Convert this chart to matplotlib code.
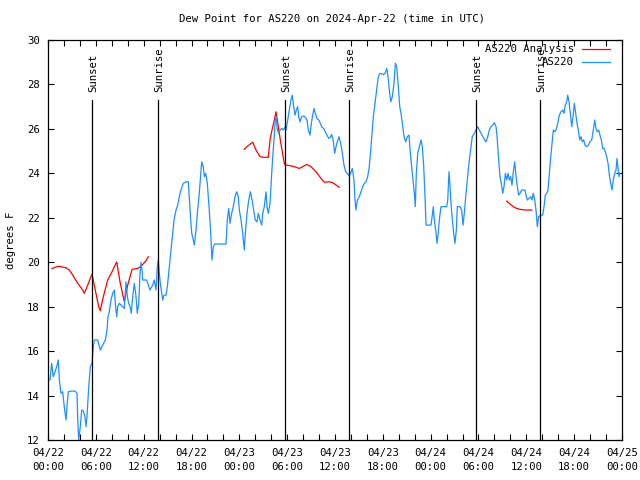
import numpy as np
import matplotlib
matplotlib.use('Agg')
import matplotlib.pyplot as plt

# --- 数据：时间（自 04/22 00:00 UTC 起的小时数）和露点（°F）---
blue_hours = [0.25, 0.46, 0.66, 0.88, 1.09, 1.29, 1.42, 1.63, 1.84, 2.04, 2.26, 2.38, 2.55, 2.89, 3.42, 3.64,
              3.73, 3.85, 4.05, 4.23, 4.43, 4.64, 4.77, 4.89, 5.11, 5.31, 5.52, 5.68, 5.81, 6.23, 6.56, 6.86,
              7.19, 7.40, 7.53, 7.69, 7.90, 8.12, 8.32, 8.44, 8.62, 8.74, 8.94, 9.16, 9.37, 9.57, 9.78, 9.95,
              10.12, 10.29, 10.45, 10.62, 10.83, 11.04, 11.20, 11.38, 11.54, 11.67, 11.79, 11.88, 12.38, 12.79,
              13.13, 13.33, 13.55, 13.71, 13.84, 13.96, 14.14, 14.39, 14.55, 14.80, 14.97, 15.22, 15.39, 15.59,
              15.81, 16.06, 16.27, 16.47, 16.68, 16.97, 17.31, 17.60, 17.72, 17.90, 18.03, 18.23, 18.35, 18.57,
              18.73, 18.94, 19.16, 19.28, 19.48, 19.61, 19.78, 19.98, 20.20, 20.41, 20.57, 20.74, 20.91, 22.33,
              22.49, 22.67, 22.83, 23.04, 23.24, 23.46, 23.67, 23.87, 24.00, 24.21, 24.42, 24.62, 24.75, 24.96,
              25.18, 25.38, 25.59, 25.80, 26.00, 26.22, 26.38, 26.59, 26.81, 26.93, 27.13, 27.35, 27.47, 27.63,
              27.85, 28.01, 28.19, 28.35, 28.51, 28.64, 28.76, 28.94, 29.10, 29.32, 29.52, 29.69, 29.85, 30.07,
              30.27, 30.48, 30.64, 30.82, 30.98, 31.15, 31.32, 31.45, 31.61, 31.82, 32.08, 32.28, 32.49, 32.65,
              32.87, 33.03, 33.20, 33.37, 33.53, 33.74, 33.96, 34.16, 34.37, 34.58, 34.78, 35.00, 35.21, 35.41,
              35.59, 35.79, 35.96, 36.13, 36.29, 36.50, 36.72, 36.92, 37.13, 37.34, 37.54, 37.76, 37.97, 38.17,
              38.38, 38.51, 38.63, 38.80, 39.05, 39.26, 39.48, 39.68, 39.89, 40.10, 40.30, 40.48, 40.64, 40.81,
              41.02, 41.23, 41.43, 41.65, 42.06, 42.27, 42.49, 42.65, 42.81, 42.99, 43.19, 43.40, 43.57, 43.74,
              43.94, 44.12, 44.28, 44.50, 44.66, 44.87, 45.07, 45.28, 45.45, 45.62, 45.79, 45.95, 46.07, 46.20,
              46.38, 46.58, 46.79, 46.95, 47.13, 47.29, 47.42, 48.04, 48.21, 48.33, 48.46, 48.63, 48.80, 48.96,
              49.13, 49.30, 50.01, 50.14, 50.30, 50.43, 50.55, 50.72, 50.89, 51.05, 51.22, 51.34, 51.68, 51.89,
              52.06, 52.22, 52.40, 52.56, 52.72, 52.90, 53.06, 53.22, 53.48, 53.69, 53.90, 54.10, 54.32, 54.53,
              54.73, 54.94, 55.16, 55.36, 55.57, 55.78, 55.98, 56.20, 56.36, 56.53, 56.70, 56.86, 57.04, 57.20,
              57.37, 57.54, 57.71, 57.87, 58.04, 58.20, 58.37, 58.54, 58.71, 58.87, 59.04, 59.21, 59.42, 59.83,
              59.96, 60.12, 60.34, 60.55, 60.71, 60.88, 61.05, 61.21, 61.38, 61.55, 61.80, 62.05, 62.22, 62.38,
              62.56, 62.72, 62.89, 63.06, 63.22, 63.39, 63.56, 63.72, 63.94, 64.14, 64.35, 64.56, 64.73, 64.89,
              65.07, 65.19, 65.35, 65.52, 65.69, 65.86, 66.02, 66.19, 66.36, 66.52, 66.70, 66.86, 67.02, 67.20,
              67.36, 67.57, 67.78, 67.99, 68.20, 68.40, 68.58, 68.74, 68.90, 69.08, 69.24, 69.41, 69.58, 69.75,
              69.91, 70.08, 70.25, 70.41, 70.58, 70.75, 70.91, 71.09, 71.25, 71.37, 71.50, 71.62, 71.75]
blue_dewpt = [14.7, 15.45, 14.85, 15.07, 15.3, 15.6, 14.7, 14.1, 14.17, 13.5, 12.9, 13.5, 14.17, 14.2, 14.2, 14.1,
              12.9, 12.0, 12.6, 13.35, 13.3, 13.05, 12.6, 13.05, 14.4, 15.3, 15.45, 16.2, 16.5, 16.5, 16.05, 16.27,
              16.5, 16.95, 17.55, 17.77, 18.3, 18.6, 18.75, 18.15, 17.55, 18.0, 18.15, 18.07, 18.0, 17.92, 19.12, 18.45,
              18.15, 18.0, 17.7, 18.45, 19.05, 18.45, 17.7, 18.15, 19.5, 20.0, 19.65, 19.2, 19.2, 18.75,
              18.97, 19.2, 18.75, 19.8, 20.1, 19.5, 18.9, 18.3, 18.52, 18.52, 18.9, 19.8, 20.4, 21.15,
              21.9, 22.35, 22.57, 22.95, 23.25, 23.55, 23.62, 23.62, 22.95, 21.9, 21.3, 21.0, 20.77, 21.45,
              22.2, 22.95, 24.0, 24.52, 24.3, 23.85, 24.0, 23.55, 22.5, 21.3, 20.1, 20.7, 20.82, 20.82,
              21.9, 22.42, 21.75, 22.2, 22.5, 22.95, 23.17, 22.95, 22.35, 21.9, 21.3, 20.55, 21.3, 22.2,
              22.8, 23.17, 22.8, 22.35, 21.9, 21.82, 22.2, 21.9, 21.67, 22.2, 22.5, 23.17, 22.5, 22.2,
              22.65, 23.7, 24.75, 25.5, 26.4, 26.55, 25.95, 25.8, 25.95, 26.02, 25.95, 26.07, 25.95, 26.4,
              26.85, 27.3, 27.52, 27.0, 26.62, 26.85, 27.0, 26.55, 26.32, 26.55, 26.58, 26.52, 26.4, 25.95,
              25.72, 26.25, 26.62, 26.92, 26.7, 26.47, 26.4, 26.25, 26.07, 26.02, 25.87, 25.72, 25.57, 25.62,
              25.75, 25.45, 24.9, 25.2, 25.42, 25.65, 25.35, 24.9, 24.37, 24.07, 24.0, 23.88, 24.0, 24.22,
              23.7, 22.8, 22.35, 22.8, 22.95, 23.17, 23.4, 23.55, 23.62, 23.85, 24.3, 25.05, 25.8, 26.55,
              27.15, 27.75, 28.35, 28.5, 28.45, 28.5, 28.72, 28.35, 27.75, 27.22, 27.45, 28.05, 28.95, 28.8,
              27.9, 27.0, 26.7, 26.1, 25.65, 25.42, 25.65, 25.72, 24.9, 24.3, 23.7, 23.1, 22.5, 24.0,
              24.9, 25.2, 25.5, 25.2, 24.3, 22.95, 21.67, 21.67, 22.12, 22.5, 21.9, 21.45, 20.85, 21.37,
              22.05, 22.5, 22.5, 22.8, 24.07, 23.4, 22.65, 21.9, 21.3, 20.85, 21.45, 22.5, 22.5, 22.35,
              21.67, 22.2, 22.95, 23.55, 24.15, 24.75, 25.2, 25.65, 25.8, 25.95, 26.1, 25.95, 25.8, 25.65,
              25.53, 25.42, 25.65, 25.95, 26.1, 26.17, 26.28, 26.1, 25.5, 24.6, 23.85, 23.55, 23.1, 23.4,
              24.0, 23.7, 24.0, 23.7, 23.85, 23.47, 24.07, 24.52, 23.85, 23.4, 23.02, 23.1, 23.25, 23.25,
              23.02, 22.8, 22.87, 22.95, 22.8, 23.1, 22.8, 22.35, 21.6, 22.05, 22.12, 22.12, 22.5, 23.02,
              23.1, 23.25, 24.0, 24.75, 25.35, 25.95, 25.87, 25.95, 26.25, 26.62, 26.77, 26.85, 26.7, 27.07,
              27.22, 27.52, 27.22, 26.7, 26.1, 26.55, 27.15, 26.7, 26.25, 25.95, 25.5, 25.65, 25.42, 25.5,
              25.27, 25.2, 25.27, 25.42, 25.5, 25.95, 26.4, 26.02, 25.87, 25.95, 25.72, 25.5, 25.12, 25.12,
              24.97, 24.75, 24.45, 23.92, 23.55, 23.25, 23.7, 24.0, 24.15, 24.67, 24.22, 23.85, 24.0]

# 分析值（红线，三段，以 NaN 断开）
red_hours = [0.50, 0.79, 1.22, 1.63, 2.26, 2.67, 3.10, 3.73, 4.35, 4.55, 4.98, 5.52, 5.93, 6.36, 6.56, 6.94,
             7.49, 8.03, 8.62, 9.03, 9.57, 10.0, 10.54, 11.25, 11.58, 11.88, 12.29, 12.58, np.nan,
             24.62, 25.05, 25.68, 26.09, 26.59, 27.13, 27.63, 27.85, 28.10, 28.39, 28.60, 28.76, 28.94, 29.14,
             29.35, 29.64, 29.77, 30.27, 30.90, 31.52, 31.95, 32.45, 32.99, 33.62, 34.25, 34.66, 35.29, 35.71,
             36.04, 36.54, np.nan,
             57.54, 57.95, 58.37, 58.79, 59.21, 59.83, 60.68]
red_dewpt = [19.72, 19.75, 19.82, 19.8, 19.75, 19.65, 19.42, 19.05, 18.75, 18.6, 18.97, 19.47, 18.75, 18.0, 17.82, 18.45,
             19.2, 19.57, 20.02, 19.12, 18.22, 18.97, 19.68, 19.72, 19.8, 19.9, 20.07, 20.25, np.nan,
             25.08, 25.23, 25.4, 25.05, 24.75, 24.72, 24.72, 25.5, 25.95, 26.4, 26.77, 26.4, 25.98, 25.5,
             25.05, 24.45, 24.37, 24.35, 24.3, 24.22, 24.3, 24.4, 24.3, 24.07, 23.77, 23.6, 23.62, 23.58,
             23.5, 23.37, np.nan,
             22.75, 22.62, 22.5, 22.42, 22.38, 22.35, 22.35]

sun_hours = [5.52, 13.80, 29.73, 37.76, 53.69, 61.72]
sun_labels = ['Sunset', 'Sunrise', 'Sunset', 'Sunrise', 'Sunset', 'Sunrise']

tick_hours = [0, 6, 12, 18, 24, 30, 36, 42, 48, 54, 60, 66, 72]
tick_labels = ['04/22\n00:00', '04/22\n06:00', '04/22\n12:00', '04/22\n18:00',
               '04/23\n00:00', '04/23\n06:00', '04/23\n12:00', '04/23\n18:00',
               '04/24\n00:00', '04/24\n06:00', '04/24\n12:00', '04/24\n18:00',
               '04/25\n00:00']

FONT = ['DejaVu Sans Mono']
FS = 7.7
plt.rcParams['font.family'] = FONT
plt.rcParams['font.size'] = FS

fig = plt.figure(figsize=(6.4, 4.8), dpi=100)
ax = fig.add_axes([48 / 640, 40 / 480, 574 / 640, 400 / 480])

BLUE = '#1e90ff'
RED = '#ff0000'

ax.plot(red_hours, red_dewpt, color=RED, lw=0.9)
ax.plot(blue_hours, blue_dewpt, color=BLUE, lw=0.9)

# 日出日落竖线
for h, lab in zip(sun_hours, sun_labels):
    ax.plot([h, h], [12, 27.3], color='black', lw=0.9)
    ax.text(h + 0.1, 27.65, lab, rotation=90, ha='center', va='bottom')

ax.set_xlim(0, 72)
ax.set_ylim(12, 30)
ax.set_xticks(tick_hours)
ax.set_xticklabels(tick_labels, linespacing=1.45)
ax.set_xticks(np.arange(0, 73, 2), minor=True)
ax.set_yticks(np.arange(12, 31, 2))
ax.tick_params(which='both', direction='in', top=True, right=True, length=4, width=0.8,
               labelsize=FS, pad=6)
ax.tick_params(which='minor', length=4)
for s in ax.spines.values():
    s.set_linewidth(0.9)

ax.set_ylabel('degrees F', labelpad=8)
fig.text(332 / 640, 1 - 19 / 480, 'Dew Point for AS220 on 2024-Apr-22 (time in UTC)',
         ha='center', va='center')

# 图例（gnuplot 风格：文字右对齐，线样在右侧）
ax.text(0.916, 0.9775, 'AS220 Analysis', transform=ax.transAxes, ha='right', va='center')
ax.plot([0.930, 0.979], [0.9775, 0.9775], transform=ax.transAxes, color=RED, lw=0.9, clip_on=False)
ax.text(0.916, 0.945, 'AS220', transform=ax.transAxes, ha='right', va='center')
ax.plot([0.930, 0.979], [0.945, 0.945], transform=ax.transAxes, color=BLUE, lw=0.9, clip_on=False)

fig.savefig('out.png', dpi=100)
